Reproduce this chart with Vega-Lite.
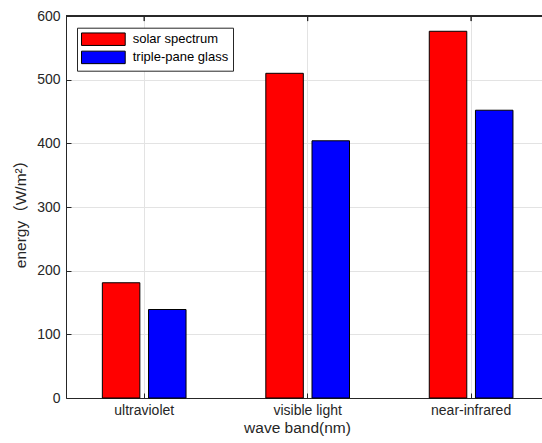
{
  "$schema": "https://vega.github.io/schema/vega-lite/v6.json",
  "width": 476,
  "height": 382,
  "autosize": {"type": "none"},
  "padding": {"left": 66, "top": 16, "right": 0, "bottom": 45},
  "background": "white",
  "config": {
    "view": {"stroke": null},
    "font": "Liberation Sans",
    "axis": {
      "labelFont": "Liberation Sans",
      "titleFont": "Liberation Sans, Noto Sans CJK SC",
      "labelFontSize": 14,
      "titleFontSize": 15.5,
      "labelColor": "#262626",
      "titleColor": "#262626",
      "titleFontWeight": "normal",
      "domainColor": "#262626",
      "tickColor": "#262626",
      "gridColor": "#e3e3e3",
      "gridOpacity": 1,
      "tickSize": -5
    }
  },
  "data": {
    "values": [
      {"band": "ultraviolet", "series": "solar spectrum", "energy": 181},
      {"band": "ultraviolet", "series": "triple-pane glass", "energy": 139},
      {"band": "visible light", "series": "solar spectrum", "energy": 510},
      {"band": "visible light", "series": "triple-pane glass", "energy": 404},
      {"band": "near-infrared", "series": "solar spectrum", "energy": 576},
      {"band": "near-infrared", "series": "triple-pane glass", "energy": 452}
    ]
  },
  "layer": [
    {
      "mark": {"type": "bar", "stroke": "black", "strokeWidth": 1},
      "encoding": {
        "x": {
          "field": "band",
          "type": "nominal",
          "sort": ["ultraviolet", "visible light", "near-infrared"],
          "scale": {"paddingInner": 0.488, "paddingOuter": 0.2, "align": 0.556},
          "axis": {
            "title": "wave band(nm)",
            "labelAngle": 0,
            "grid": true,
            "bandPosition": 0.5,
            "labelPadding": 10,
            "labelBaseline": "top",
            "titleX": 231,
            "titleY": 34,
            "titleBaseline": "alphabetic",
            "titleAlign": "center",
            "titleAnchor": null
          }
        },
        "xOffset": {
          "field": "series",
          "type": "nominal",
          "sort": ["solar spectrum", "triple-pane glass"],
          "scale": {"paddingInner": 0.188, "paddingOuter": 0}
        },
        "y": {
          "field": "energy",
          "type": "quantitative",
          "scale": {"domain": [0, 600], "nice": false},
          "axis": {
            "title": "energy（W/m²）",
            "values": [0, 100, 200, 300, 400, 500, 600],
            "grid": true,
            "labelPadding": 11,
            "titleAngle": 270,
            "titleX": -41,
            "titleY": 194,
            "titleBaseline": "alphabetic",
            "titleAlign": "center",
            "titleAnchor": null
          }
        },
        "color": {
          "field": "series",
          "type": "nominal",
          "sort": ["solar spectrum", "triple-pane glass"],
          "scale": {"range": ["#ff0000", "#0000ff"]},
          "legend": {
            "title": null,
            "orient": "none",
            "legendX": 11,
            "legendY": 11.7,
            "direction": "vertical",
            "symbolType": "M-3.5,-1H3.5V1H-3.5Z",
            "symbolSize": 156,
            "symbolOffset": 14.85,
            "symbolStrokeColor": "black",
            "symbolStrokeWidth": 1,
            "symbolOpacity": 1,
            "labelFont": "Liberation Sans",
            "labelFontSize": 13,
            "labelColor": "#000000",
            "labelOffset": 22.4,
            "padding": 4.5,
            "rowPadding": 0.2,
            "strokeColor": "#262626",
            "fillColor": "white",
            "labelExpr": "datum.label + '      '"
          }
        }
      }
    },
    {
      "mark": {"type": "rule", "color": "#262626"},
      "encoding": {"y": {"datum": 600}}
    },
    {
      "mark": {"type": "rule", "color": "#262626"},
      "encoding": {
        "x": {"field": "band", "type": "nominal", "sort": ["ultraviolet", "visible light", "near-infrared"], "bandPosition": 0.5},
        "y": {"datum": 600},
        "y2": {"datum": 592}
      }
    }
  ]
}
